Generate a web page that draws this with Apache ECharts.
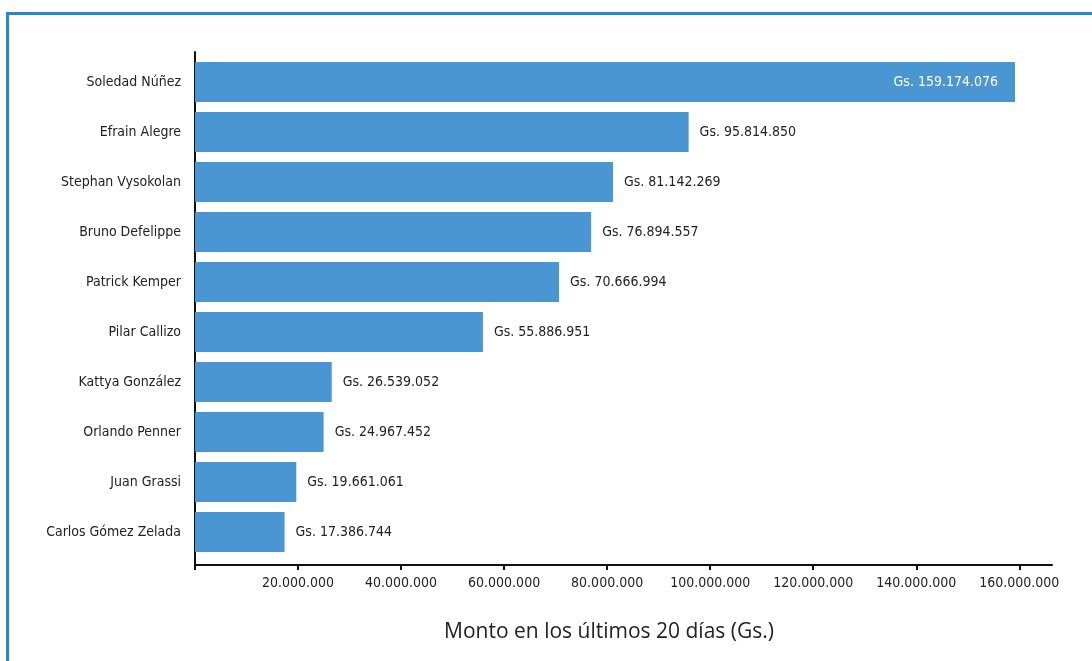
<!DOCTYPE html>
<html>
<head>
<meta charset="utf-8">
<script src="https://cdn.jsdelivr.net/npm/echarts@6/dist/echarts.min.js"></script>
<style>
  html, body { margin: 0; padding: 0; background: #fff; }
  #frame { position: absolute; left: 6px; top: 12px; width: 1200px; height: 800px; border-left: 3px solid #2288d4; border-top: 3px solid #2288d4; box-sizing: border-box; pointer-events: none; }
  #chart { position: absolute; left: 0; top: 0; width: 1092px; height: 661px; }
</style>
</head>
<body>
<div id="chart"></div>
<div id="frame"></div>
<script>
const names = [
  'Soledad Núñez', 'Efrain Alegre', 'Stephan Vysokolan', 'Bruno Defelippe',
  'Patrick Kemper', 'Pilar Callizo', 'Kattya González', 'Orlando Penner',
  'Juan Grassi', 'Carlos Gómez Zelada'
];
const amounts = [
  159174076, 95814850, 81142269, 76894557, 70666994,
  55886951, 26539052, 24967452, 19661061, 17386744
];
const xTickStep = 20000000;
const xMax = 166350000;
const axisTitle = 'Monto en los últimos 20 días (Gs.)';

const FONT = "'Liberation Sans Narrow', 'DejaVu Sans Condensed', 'Roboto Condensed', 'Open Sans Condensed', sans-serif";

function dots(n) {
  return String(Math.round(n)).replace(/\B(?=(\d{3})+(?!\d))/g, '.');
}

const maxVal = Math.max.apply(null, amounts);
const barData = amounts.map(v => v === maxVal ? {
  value: v,
  label: { position: 'insideRight', color: '#ffffff', distance: 17 }
} : v);

const chart = echarts.init(document.getElementById('chart'), null, { renderer: 'canvas' });
chart.setOption({
  animation: false,
  backgroundColor: '#ffffff',
  title: {
    text: axisTitle,
    left: 604,
    textAlign: 'center',
    top: 617,
    textStyle: { fontFamily: "'Open Sans', sans-serif", fontSize: 21, fontWeight: 'normal', color: '#222' }
  },
  grid: [
    { left: 195, right: 40, top: 57, bottom: 104 },
    { left: 195, right: 40, top: 52, bottom: 96 }
  ],
  xAxis: [
    { gridIndex: 0, type: 'value', min: 0, max: xMax, show: false },
    {
      gridIndex: 1, type: 'value', min: 0, max: xMax, interval: xTickStep,
      axisLine: { show: true, lineStyle: { color: '#111', width: 2 } },
      axisTick: { show: true, length: 5, lineStyle: { color: '#111', width: 2 } },
      splitLine: { show: false },
      axisLabel: {
        margin: 11,
        fontFamily: FONT, fontSize: 14, color: '#222',
        formatter: v => v === 0 ? '' : dots(v),
        showMaxLabel: false
      }
    }
  ],
  yAxis: [
    {
      gridIndex: 0, type: 'category', data: names, inverse: true,
      axisLine: { show: false }, axisTick: { show: false },
      axisLabel: { margin: 14, fontFamily: FONT, fontSize: 14, color: '#222' }
    },
    {
      gridIndex: 1, type: 'value', min: 0, max: 1,
      axisLine: { show: true, lineStyle: { color: '#111', width: 2 } },
      axisTick: { show: false }, axisLabel: { show: false }, splitLine: { show: false }
    }
  ],
  series: [{
    type: 'bar',
    xAxisIndex: 0, yAxisIndex: 0,
    data: barData,
    barWidth: 40,
    itemStyle: { color: '#4a96d3' },
    label: {
      show: true, position: 'right', distance: 11,
      fontFamily: FONT, fontSize: 14, color: '#222',
      formatter: p => 'Gs. ' + dots(p.value)
    }
  }]
});
</script>
</body>
</html>
